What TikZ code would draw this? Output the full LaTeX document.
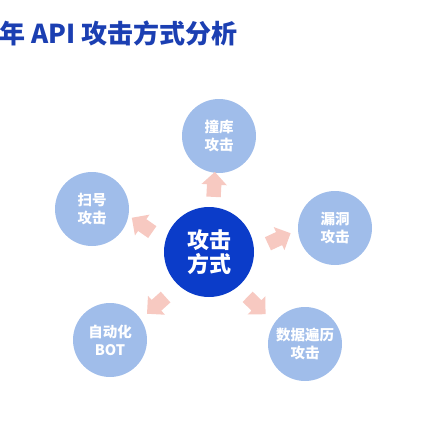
\documentclass[tikz,border=0pt]{standalone}
\usepackage{fontspec}
\newfontfamily\cjk{Noto Sans CJK SC}
\usetikzlibrary{shapes.arrows}
\definecolor{titleblue}{HTML}{1B3FB2}
\definecolor{coreblue}{HTML}{0B3CC9}
\definecolor{leafblue}{HTML}{A0BDEA}
\definecolor{arrowpink}{HTML}{F7C9C1}
\begin{document}
\begin{tikzpicture} [x=1pt, y=-1pt,
    leaf/.style={circle, fill=leafblue, minimum size=74pt, inner sep=0pt, text=white, align=center, font=\cjk\bfseries\fontsize{14.5}{18}\selectfont},
    core/.style={circle, fill=coreblue, minimum size=90pt, inner sep=0pt, text=white, align=center, font=\cjk\bfseries\fontsize{22}{24}\selectfont},
    fat/.style={single arrow, fill=arrowpink, minimum height=25pt, single arrow head extend=5.5pt, inner xsep=0pt, inner ysep=7pt}]
    \useasboundingbox (0,0) rectangle (428,428);
    % place nodes
    \node [anchor=east, text=titleblue, font=\cjk\bfseries\fontsize{26}{30}\selectfont] (title) at (241,33) {年 API 攻击方式分析};
    \node [core] (gongji) at (209,252) {攻击\\方式};
    \node [leaf] (zhuangku) at (219,136) {撞库\\攻击};
    \node [leaf] (saohao) at (92,209) {扫号\\攻击};
    \node [leaf] (loudong) at (335,228) {漏洞\\攻击};
    \node [leaf] (bot) at (110,340) {自动化\\BOT};
    \node [leaf] (bianli) at (305,344) {数据遍历\\攻击};
    % place arrows
    \node [fat, rotate=87] (toZhuangku) at (214,188) {};
    \node [fat, rotate=145] (toSaohao) at (145,227) {};
    \node [fat, rotate=25] (toLoudong) at (276,240) {};
    \node [fat, rotate=222] (toBot) at (159,303) {};
    \node [fat, rotate=316] (toBianli) at (254,303) {};
  \end{tikzpicture}
\end{document}
